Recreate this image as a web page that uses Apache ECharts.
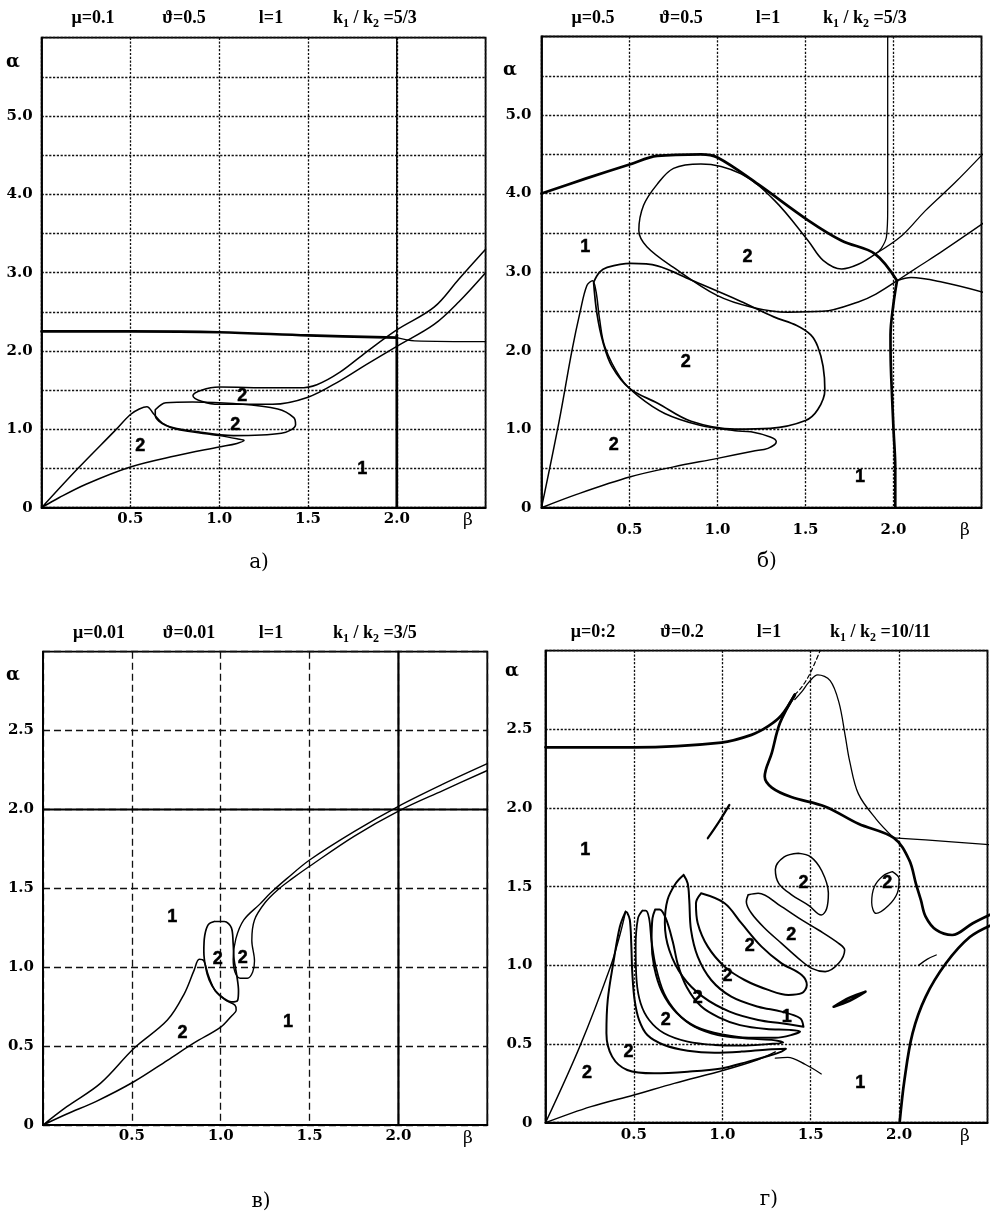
<!DOCTYPE html>
<html>
<head>
<meta charset="utf-8">
<script src="https://cdn.jsdelivr.net/npm/echarts/dist/echarts.min.js"></script>
<style>
  html, body { margin: 0; padding: 0; background: #fff; }
  #chart { width: 993px; height: 1220px; }
</style>
</head>
<body>
<div id="chart"></div>
<script>
// ---------- axis ticks ----------
const betaTicks = [0.5, 1.0, 1.5, 2.0];
const alphaTicksTop = [0, 1, 2, 3, 4, 5];          // labelled rows of panels а, б
const alphaTicksBottom = [0, 0.5, 1, 1.5, 2, 2.5]; // labelled rows of panels в, г

// ---------- panel а: μ=0.1, ϑ=0.5, k1/k2=5/3 ----------
const aTopThick = [[0, 2.25], [0.5, 2.25], [1.0, 2.24], [1.5, 2.20], [2.0, 2.17]];
const aTopThin = [[2.0, 2.17], [2.1, 2.13], [2.5, 2.12]];
const aVertThin = [[2.0, 6.0], [2.0, 2.2]];
const aVertThick = [[2.0, 2.2], [2.0, 0]];
const aBand = [[2.5, 3.30], [2.35, 2.92], [2.21, 2.56], [2.0, 2.27], [1.83, 1.99], [1.68, 1.73], [1.55, 1.57],
  [1.45, 1.53], [1.3, 1.53], [1.0, 1.54], [0.9, 1.50], [0.852, 1.43], [0.9, 1.36], [1.0, 1.32], [1.3, 1.32],
  [1.5, 1.41], [1.68, 1.62], [1.83, 1.83], [2.0, 2.06], [2.21, 2.34], [2.35, 2.63], [2.5, 3.0]];
const aLoop = [[0.64, 1.25], [0.70, 1.34], [0.85, 1.35], [1.08, 1.33], [1.33, 1.26], [1.42, 1.15], [1.43, 1.06],
  [1.35, 0.95], [1.08, 0.92], [0.89, 0.965], [0.70, 1.05], [0.64, 1.18], [0.64, 1.25]];
const aTongue = [[0, 0], [0.2, 0.49], [0.42, 1.0], [0.5, 1.19], [0.55, 1.26], [0.593, 1.29], [0.63, 1.2],
  [0.68, 1.08], [0.76, 1.0], [1.0, 0.92], [1.1, 0.88], [1.14, 0.86], [1.1, 0.82], [1.0, 0.775], [0.75, 0.66],
  [0.5, 0.52], [0.25, 0.30], [0.1, 0.13], [0, 0]];
const aMarks = [[1.13, 1.43, '2'], [1.09, 1.05, '2'], [0.555, 0.79, '2'], [1.805, 0.50, '1']];

// ---------- panel б: μ=0.5, ϑ=0.5, k1/k2=5/3 ----------
const bThickTop = [[0, 4.0], [0.25, 4.19], [0.5, 4.37], [0.658, 4.48], [0.906, 4.50], [1.0, 4.46], [1.23, 4.12],
  [1.515, 3.66], [1.706, 3.40], [1.896, 3.23], [2.02, 2.89]];
const bThickVert = [[2.02, 2.89], [2.0, 2.6], [1.983, 2.2], [1.985, 1.8], [2.0, 1.0], [2.01, 0.5], [2.01, 0]];
const bThinVert = [[1.967, 6.0], [1.967, 4.5], [1.967, 3.8], [1.96, 3.45], [1.93, 3.3], [1.896, 3.23]];
const bThinNE = [[1.896, 3.23], [2.05, 3.47], [2.18, 3.78], [2.35, 4.14], [2.515, 4.52]];
const bUpperLoop = [[1.896, 3.23], [1.8, 3.10], [1.706, 3.04], [1.6, 3.15], [1.515, 3.40], [1.325, 3.91],
  [1.134, 4.25], [0.906, 4.376], [0.75, 4.32], [0.658, 4.12], [0.58, 3.85], [0.553, 3.53], [0.60, 3.32],
  [0.75, 3.06], [1.0, 2.70], [1.2, 2.55], [1.4, 2.49], [1.6, 2.50], [1.8, 2.62], [1.9, 2.72], [2.02, 2.89]];
const bRightThin = [[2.02, 2.89], [2.1, 2.93], [2.28, 2.87], [2.515, 2.74]];
const bNE2 = [[2.02, 2.89], [2.15, 3.08], [2.28, 3.27], [2.515, 3.63]];
const bLowerLoop = [[0.296, 2.87], [0.33, 3.0], [0.373, 3.06], [0.506, 3.11], [0.658, 3.08], [0.85, 2.90],
  [1.13, 2.63], [1.32, 2.43], [1.45, 2.32], [1.53, 2.2], [1.57, 2.05], [1.60, 1.8], [1.61, 1.5], [1.57, 1.25],
  [1.5, 1.11], [1.3, 1.01], [1.1, 1.0], [0.85, 1.1], [0.66, 1.33], [0.5, 1.52], [0.4, 1.8], [0.35, 2.1],
  [0.315, 2.47], [0.296, 2.87]];
const bTongue = [[0, 0], [0.1, 1.1], [0.173, 2.0], [0.22, 2.5], [0.258, 2.83], [0.29, 2.89], [0.31, 2.75],
  [0.33, 2.4], [0.36, 2.05], [0.45, 1.65], [0.55, 1.42], [0.7, 1.2], [0.9, 1.05], [1.1, 0.98], [1.19, 0.966],
  [1.3, 0.9], [1.334, 0.84], [1.287, 0.755], [1.2, 0.72], [1.0, 0.628], [0.75, 0.52], [0.506, 0.394],
  [0.2, 0.17], [0, 0]];
const bMarks = [[0.249, 3.32, '1'], [1.17, 3.19, '2'], [0.82, 1.855, '2'], [0.41, 0.80, '2'], [1.81, 0.39, '1']];

// ---------- panel в: μ=0.01, ϑ=0.01, k1/k2=3/5 ----------
const cHoriz = [[0, 2.0], [2.5, 2.0]];
const cVert = [[2.0, 0], [2.0, 3.0]];
const cBand = [[2.5, 2.29], [2.25, 2.16], [2.0, 2.02], [1.75, 1.86], [1.5, 1.68], [1.37, 1.56], [1.28, 1.47],
  [1.22, 1.40], [1.13, 1.30], [1.085, 1.18], [1.07, 1.05], [1.08, 0.97], [1.11, 0.93], [1.15, 0.93],
  [1.18, 0.97], [1.19, 1.04], [1.175, 1.17], [1.19, 1.30], [1.25, 1.41], [1.32, 1.49], [1.40, 1.56],
  [1.5, 1.64], [1.75, 1.83], [2.0, 1.99], [2.25, 2.12], [2.5, 2.247]];
const cLoop = [[0.964, 1.29], [0.93, 1.27], [0.91, 1.2], [0.905, 1.1], [0.915, 1.0], [0.935, 0.92],
  [0.97, 0.85], [1.02, 0.80], [1.06, 0.78], [1.095, 0.79], [1.10, 0.85], [1.09, 0.95], [1.075, 1.05],
  [1.07, 1.15], [1.06, 1.25], [1.02, 1.29], [0.964, 1.29]];
const cTongue = [[0, 0], [0.134, 0.116], [0.323, 0.264], [0.511, 0.485], [0.70, 0.665], [0.794, 0.83],
  [0.85, 0.98], [0.879, 1.05], [0.905, 1.04], [0.93, 0.95], [0.97, 0.85], [1.03, 0.79], [1.08, 0.76],
  [1.087, 0.728], [1.06, 0.69], [1.0, 0.62], [0.85, 0.52], [0.70, 0.41], [0.511, 0.274], [0.3, 0.15],
  [0.134, 0.07], [0, 0]];
const cMarks = [[0.728, 1.318, '1'], [0.983, 1.055, '2'], [1.124, 1.06, '2'], [0.785, 0.58, '2'], [1.379, 0.654, '1']];

// ---------- panel г: μ=0.2, ϑ=0.2, k1/k2=10/11 ----------
const dTopThick = [[0, 2.386], [0.5, 2.386], [0.994, 2.416], [1.165, 2.465], [1.26, 2.52], [1.335, 2.59], [1.41, 2.72]];
const dTopDash = [[1.41, 2.72], [1.45, 2.77], [1.497, 2.857], [1.553, 3.0]];
const dThickS = [[1.41, 2.72], [1.326, 2.54], [1.28, 2.35], [1.24, 2.2], [1.28, 2.13], [1.39, 2.07], [1.58, 2.01],
  [1.77, 1.90], [1.97, 1.81], [2.057, 1.67], [2.095, 1.52], [2.123, 1.416], [2.15, 1.31], [2.21, 1.225],
  [2.30, 1.193], [2.417, 1.268], [2.53, 1.33]];
const dThinLoop = [[1.97, 1.81], [1.87, 1.93], [1.77, 2.09], [1.72, 2.3], [1.696, 2.454], [1.66, 2.67],
  [1.61, 2.81], [1.54, 2.846], [1.49, 2.80], [1.45, 2.74], [1.41, 2.69]];
const dThinE = [[1.97, 1.81], [2.15, 1.797], [2.53, 1.765]];
const dBottomThick = [[2.003, 0], [2.03, 0.27], [2.076, 0.568], [2.15, 0.80], [2.265, 1.013], [2.40, 1.18], [2.53, 1.26]];
const dStroke1 = [[0.918, 1.808], [0.98, 1.91], [1.04, 2.02]];
const dStroke2 = [[1.63, 0.737], [1.72, 0.795], [1.81, 0.833], [1.72, 0.775], [1.63, 0.737]];
const dStroke3 = [[2.11, 1.0], [2.16, 1.04], [2.21, 1.066]];
const dArc = [[1.30, 0.41], [1.37, 0.415], [1.47, 0.37], [1.56, 0.31]];
const dLoopA = [[1.43, 1.713], [1.50, 1.69], [1.563, 1.60], [1.60, 1.46], [1.59, 1.36], [1.56, 1.32], [1.49, 1.38],
  [1.39, 1.45], [1.32, 1.52], [1.30, 1.61], [1.35, 1.69], [1.43, 1.713]];
const dLoopB = [[1.962, 1.596], [2.0, 1.55], [1.99, 1.46], [1.94, 1.38], [1.87, 1.33], [1.845, 1.40],
  [1.86, 1.50], [1.91, 1.57], [1.962, 1.596]];
const dL0 = [[0, 0], [0.196, 0.49], [0.367, 0.99], [0.42, 1.19], [0.453, 1.342]];
const dL0b = [[0, 0], [0.257, 0.102], [0.5, 0.176], [0.728, 0.25], [1.013, 0.335], [1.20, 0.40], [1.30, 0.45]];
const dT1 = [[0.453, 1.342], [0.4205, 1.246], [0.3863, 1.034], [0.352, 0.78], [0.3446, 0.568], [0.377, 0.42],
  [0.4623, 0.335], [0.614, 0.314], [0.804, 0.324], [0.994, 0.345], [1.146, 0.388], [1.259, 0.424],
  [1.335, 0.452], [1.36, 0.47], [1.259, 0.466], [1.108, 0.452], [0.956, 0.445], [0.804, 0.458],
  [0.671, 0.494], [0.576, 0.557], [0.529, 0.653], [0.504, 0.78], [0.491, 0.95], [0.485, 1.14],
  [0.477, 1.289], [0.462, 1.335], [0.453, 1.342]];
const dF2 = [[0.548, 1.348], [0.523, 1.299], [0.510, 1.119], [0.515, 0.907], [0.538, 0.759], [0.586, 0.653],
  [0.671, 0.568], [0.804, 0.515], [0.956, 0.494], [1.108, 0.49], [1.259, 0.50], [1.345, 0.509], [1.279, 0.526],
  [1.127, 0.536], [0.975, 0.557], [0.842, 0.610], [0.747, 0.695], [0.671, 0.822], [0.624, 0.992],
  [0.599, 1.162], [0.586, 1.299], [0.567, 1.348], [0.548, 1.348]];
const dF3 = [[0.62, 1.355], [0.605, 1.299], [0.60, 1.16], [0.615, 0.99], [0.66, 0.83], [0.74, 0.70], [0.85, 0.61],
  [1.0, 0.56], [1.15, 0.54], [1.30, 0.54], [1.40, 0.56], [1.44, 0.58], [1.38, 0.59], [1.25, 0.595], [1.1, 0.62],
  [0.98, 0.67], [0.88, 0.74], [0.80, 0.86], [0.75, 1.0], [0.72, 1.15], [0.68, 1.30], [0.645, 1.355], [0.62, 1.355]];
const dF4 = [[0.781, 1.575], [0.737, 1.522], [0.69, 1.416], [0.675, 1.268], [0.70, 1.098], [0.776, 0.928],
  [0.889, 0.801], [1.041, 0.706], [1.203, 0.653], [1.335, 0.632], [1.459, 0.61], [1.44, 0.664], [1.335, 0.706],
  [1.203, 0.737], [1.051, 0.801], [0.937, 0.907], [0.861, 1.055], [0.823, 1.225], [0.813, 1.416],
  [0.804, 1.522], [0.781, 1.575]];
const dF5 = [[0.880, 1.458], [1.013, 1.395], [1.108, 1.268], [1.222, 1.119], [1.335, 1.013], [1.449, 0.939],
  [1.478, 0.875], [1.449, 0.823], [1.374, 0.812], [1.26, 0.844], [1.126, 0.907], [1.013, 0.992],
  [0.918, 1.119], [0.861, 1.268], [0.851, 1.395], [0.880, 1.458]];
const dF6 = [[1.146, 1.448], [1.203, 1.458], [1.335, 1.373], [1.449, 1.289], [1.544, 1.225], [1.658, 1.14],
  [1.692, 1.098], [1.658, 1.013], [1.582, 0.96], [1.506, 0.981], [1.43, 1.045], [1.335, 1.14], [1.24, 1.236],
  [1.165, 1.331], [1.136, 1.405], [1.146, 1.448]];
const dMarks = [[0.235, 0.314, '2'], [0.47, 0.45, '2'], [0.68, 0.65, '2'], [0.861, 0.79, '2'], [1.03, 0.93, '2'],
  [1.155, 1.12, '2'], [1.39, 1.19, '2'], [1.364, 0.674, '1'], [1.459, 1.522, '2'], [1.933, 1.522, '2'],
  [0.225, 1.734, '1'], [1.78, 0.25, '1']];

// ---------- panel headers ----------
const headers = [
  { mu: 'μ=0.1', th: 'ϑ=0.5', l: 'l=1', k: '5/3', cap: 'а)' },
  { mu: 'μ=0.5', th: 'ϑ=0.5', l: 'l=1', k: '5/3', cap: 'б)' },
  { mu: 'μ=0.01', th: 'ϑ=0.01', l: 'l=1', k: '3/5', cap: 'в)' },
  { mu: 'μ=0:2', th: 'ϑ=0.2', l: 'l=1', k: '10/11', cap: 'г)' }
];

// ---------- layout ----------
const layout = [
  { left: 41.6, top: 37.7, width: 444, height: 470, ymax: 6, dash: [2.2, 1.6], hy: 18, xs: [93, 184, 271, 333],
    alpha: [13, 62], beta: [468, 521], cap: [259, 563], xMargin: 4, yMargin: 9 },
  { left: 541.5, top: 36.5, width: 440, height: 471.2, ymax: 6, dash: [2.2, 1.6], hy: 18, xs: [593, 681, 768, 823],
    alpha: [510, 70], beta: [965, 531], cap: [767, 562], xMargin: 15, yMargin: 10 },
  { left: 43, top: 651.7, width: 444.3, height: 473.3, ymax: 3, dash: [7, 4], hy: 633, xs: [99, 189, 271, 333],
    alpha: [13, 675], beta: [468, 1139], cap: [261, 1202], xMargin: 4, yMargin: 9 },
  { left: 545.5, top: 650.7, width: 442, height: 472, ymax: 3, dash: [2.2, 1.6], hy: 632, xs: [593, 682, 769, 830],
    alpha: [512, 671], beta: [965, 1137], cap: [769, 1200], xMargin: 5, yMargin: 13 }
];

const INK = '#000';
const tickFont = 'DejaVu Serif';

function curve(data, g, w, dash) {
  return {
    type: 'line', xAxisIndex: g, yAxisIndex: g, data: data, symbol: 'none', showSymbol: false,
    smooth: 0.35, silent: true, z: 3,
    lineStyle: { color: INK, width: w, type: dash || 'solid', cap: 'round', join: 'round' }
  };
}
function marks(data, g) {
  return {
    type: 'scatter', xAxisIndex: g, yAxisIndex: g, data: data, symbolSize: 1, silent: true, z: 4,
    itemStyle: { color: 'rgba(255,255,255,0)' },
    label: { show: true, position: 'inside', formatter: p => p.data[2], opacity: 1,
      fontFamily: 'Liberation Sans', fontWeight: 'bold', fontSize: 18, color: INK,
      textBorderColor: INK, textBorderWidth: 0.5 }
  };
}

const grids = [], xAxes = [], yAxes = [], graphics = [];
layout.forEach((L, g) => {
  grids.push({ left: L.left, top: L.top, width: L.width, height: L.height, show: true,
    borderColor: INK, borderWidth: 1.8, backgroundColor: '#fff', containLabel: false });
  xAxes.push({
    type: 'value', gridIndex: g, min: 0, max: 2.5, interval: 0.5,
    axisLine: { show: true, lineStyle: { color: INK, width: 1.8 } }, axisTick: { show: false },
    splitLine: { show: true, lineStyle: { color: '#111', width: 1.3, type: L.dash } },
    axisLabel: { margin: L.xMargin, color: INK, fontFamily: tickFont, fontWeight: 'bold', fontSize: 15,
      formatter: v => (betaTicks.some(t => Math.abs(t - v) < 1e-6) ? v.toFixed(1) : '') }
  });
  const labelled = L.ymax === 6 ? alphaTicksTop : alphaTicksBottom;
  yAxes.push({
    type: 'value', gridIndex: g, min: 0, max: L.ymax, interval: 0.5,
    axisLine: { show: true, lineStyle: { color: INK, width: 1.8 } }, axisTick: { show: false },
    splitLine: { show: true, lineStyle: { color: '#111', width: 1.3, type: L.dash } },
    axisLabel: { margin: L.yMargin, color: INK, fontFamily: tickFont, fontWeight: 'bold', fontSize: 15,
      formatter: v => (labelled.some(t => Math.abs(t - v) < 1e-6) ? (v === 0 ? '0' : v.toFixed(1)) : '') }
  });
  const H = headers[g];
  const hs = { fill: INK, font: 'bold 18px "Liberation Serif"', textVerticalAlign: 'middle' };
  graphics.push({ type: 'text', x: L.xs[0], y: L.hy, style: Object.assign({ text: H.mu, textAlign: 'center' }, hs) });
  graphics.push({ type: 'text', x: L.xs[1], y: L.hy, style: Object.assign({ text: H.th, textAlign: 'center' }, hs) });
  graphics.push({ type: 'text', x: L.xs[2], y: L.hy, style: Object.assign({ text: H.l, textAlign: 'center' }, hs) });
  graphics.push({ type: 'text', x: L.xs[3], y: L.hy, style: Object.assign({
    text: 'k{s|1} / k{s|2} =' + H.k, textAlign: 'left',
    rich: { s: { font: 'bold 12px "Liberation Serif"', fill: INK, padding: [12, 0, 0, 0] } } }, hs) });
  graphics.push({ type: 'text', x: L.alpha[0], y: L.alpha[1], style: { text: 'α', fill: INK,
    font: 'bold 18px "DejaVu Serif"', textAlign: 'center', textVerticalAlign: 'middle' } });
  graphics.push({ type: 'text', x: L.beta[0], y: L.beta[1], style: { text: 'β', fill: INK,
    font: '17px "DejaVu Serif"', textAlign: 'center', textVerticalAlign: 'middle' } });
  graphics.push({ type: 'text', x: L.cap[0], y: L.cap[1], style: { text: H.cap, fill: INK,
    font: '20px "DejaVu Serif"', textAlign: 'center', textVerticalAlign: 'middle' } });
});

const THIN = 1.3, THICK = 2.7;
const series = [
  // а
  curve(aTopThick, 0, THICK), curve(aTopThin, 0, THIN), curve(aVertThin, 0, 1.5), curve(aVertThick, 0, THICK),
  curve(aBand, 0, 1.5), curve(aLoop, 0, 1.6), curve(aTongue, 0, 1.5), marks(aMarks, 0),
  // б
  curve(bThickTop, 1, THICK), curve(bThickVert, 1, THICK), curve(bThinVert, 1, THIN), curve(bThinNE, 1, THIN),
  curve(bUpperLoop, 1, 1.5), curve(bRightThin, 1, 1.5), curve(bNE2, 1, THIN), curve(bLowerLoop, 1, 1.7),
  curve(bTongue, 1, 1.5), marks(bMarks, 1),
  // в
  curve(cHoriz, 2, 2.0), curve(cVert, 2, 2.2), curve(cBand, 2, 1.4), curve(cLoop, 2, 1.7), curve(cTongue, 2, 1.5),
  marks(cMarks, 2),
  // г
  curve(dTopThick, 3, THICK), curve(dTopDash, 3, 1.2, [4, 3]), curve(dThickS, 3, THICK), curve(dThinLoop, 3, THIN),
  curve(dThinE, 3, THIN), curve(dBottomThick, 3, THICK), curve(dStroke1, 3, 2.2), curve(dStroke2, 3, 2.6),
  curve(dStroke3, 3, THIN), curve(dArc, 3, THIN), curve(dLoopA, 3, 1.5), curve(dLoopB, 3, 1.3),
  curve(dL0, 3, 1.4), curve(dL0b, 3, 1.4), curve(dT1, 3, 2.0), curve(dF2, 3, 1.8), curve(dF3, 3, 2.0),
  curve(dF4, 3, 2.0), curve(dF5, 3, 2.0), curve(dF6, 3, 1.6), marks(dMarks, 3)
];

const chart = echarts.init(document.getElementById('chart'), null, { renderer: 'canvas' });
chart.setOption({
  animation: false,
  backgroundColor: '#fff',
  grid: grids,
  xAxis: xAxes,
  yAxis: yAxes,
  graphic: graphics,
  series: series
});
</script>
</body>
</html>
